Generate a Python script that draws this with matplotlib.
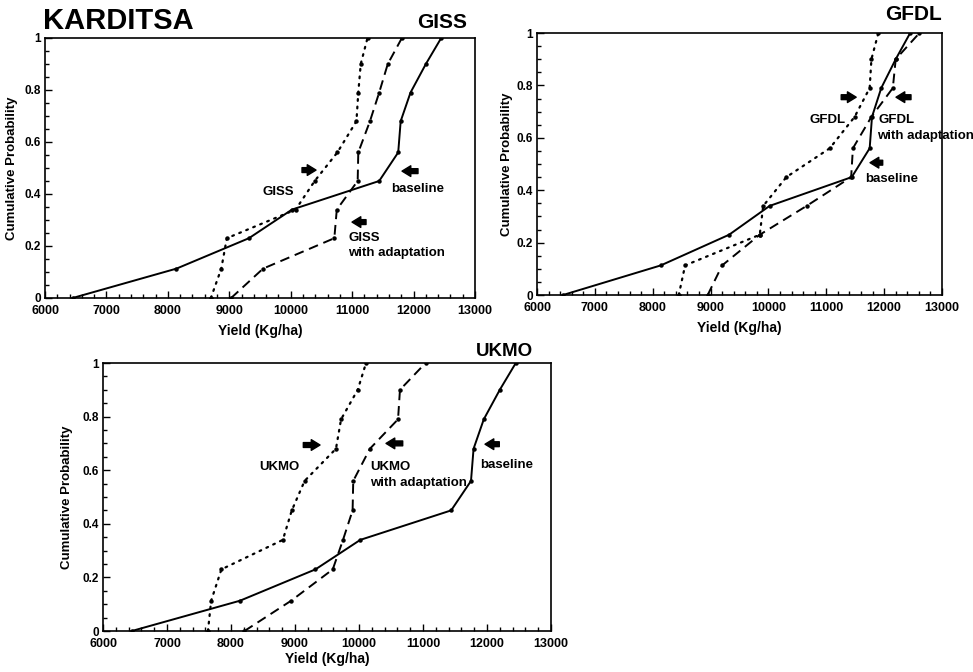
import matplotlib
matplotlib.use("Agg")
import matplotlib.pyplot as plt
from matplotlib.ticker import MultipleLocator, FixedLocator

plt.rcParams['font.family'] = ['Liberation Sans', 'DejaVu Sans']

# ---------------- data ----------------
prob = [0, 0.113, 0.23, 0.34, 0.45, 0.56, 0.68, 0.79, 0.90, 1.0]
baseline = [6450, 8140, 9320, 10020, 11440, 11750, 11790, 11950, 12200, 12450]

giss = [8700, 8870, 8960, 10080, 10390, 10760, 11070, 11100, 11140, 11250]
giss_adapt = [9030, 9550, 10710, 10750, 11090, 11100, 11290, 11440, 11580, 11810]

gfdl = [8450, 8560, 9850, 9910, 10310, 11060, 11490, 11750, 11780, 11900]
gfdl_adapt = [8950, 9200, 9850, 10660, 11430, 11460, 11780, 12150, 12200, 12610]

ukmo = [7640, 7690, 7850, 8810, 8950, 9150, 9640, 9720, 9980, 10110]
ukmo_adapt = [8210, 8940, 9590, 9750, 9900, 9910, 10170, 10610, 10640, 11040]

xticks = [6000, 7000, 8000, 9000, 10000, 11000, 12000, 13000]
yticks = [0, 0.2, 0.4, 0.6, 0.8, 1]
ytick_labels = ['0', '0.2', '0.4', '0.6', '0.8', '1']

# ---------------- figure ----------------
fig = plt.figure(figsize=(9.73, 6.72), dpi=100)
W, H = 973.0, 672.0


def make_axes(l, r, t, b):
    return fig.add_axes([l / W, 1 - b / H, (r - l) / W, (b - t) / H])


def style(ax, xlab_y, ylab_x):
    ax.set_xlim(6000, 13000)
    ax.set_ylim(0, 1)
    ax.xaxis.set_major_locator(FixedLocator(xticks))
    ax.xaxis.set_minor_locator(MultipleLocator(200))
    ax.yaxis.set_major_locator(FixedLocator(yticks))
    ax.yaxis.set_minor_locator(MultipleLocator(0.05))
    ax.set_yticklabels(ytick_labels)
    ax.tick_params(which='both', direction='in', top=False, right=False,
                   width=1.0)
    ax.tick_params(axis='x', labelsize=9, pad=5)
    ax.tick_params(axis='y', labelsize=8.5, pad=3)
    ax.tick_params(which='major', length=5)
    ax.tick_params(which='minor', length=3)
    for lab in ax.get_xticklabels() + ax.get_yticklabels():
        lab.set_fontweight('bold')
    for s in ax.spines.values():
        s.set_linewidth(1.2)
    ax.set_xlabel('Yield (Kg/ha)', fontsize=10, fontweight='bold')
    ax.set_ylabel('Cumulative Probability', fontsize=9.5, fontweight='bold')
    ax.xaxis.set_label_coords(0.5, xlab_y)
    ax.yaxis.set_label_coords(ylab_x, 0.5)


def draw(ax, scen, adapt):
    ax.plot(baseline, prob, color='black', lw=1.4, marker='o', ms=2.2,
            solid_joinstyle='miter')
    ax.plot(scen, prob, color='black', lw=1.6, linestyle=(0, (0.8, 2.6)),
            marker='o', ms=2.2, dash_capstyle='round')
    ax.plot(adapt, prob, color='black', lw=1.4, linestyle=(0, (5, 3)),
            marker='o', ms=2.2)


def arrow(ax, x_tail, x_tip, y):
    ax.annotate('', xy=(x_tip, y), xytext=(x_tail, y),
                arrowprops=dict(arrowstyle='simple,head_length=0.9,head_width=1.1,tail_width=0.5',
                                color='black', shrinkA=0, shrinkB=0,
                                mutation_scale=7))


tfs = 9.5

# ---- GISS ----
ax1 = make_axes(45, 475, 38, 298)
draw(ax1, giss, giss_adapt)
style(ax1, -0.1, -0.062)
arrow(ax1, 10184, 10412, 0.492)
ax1.text(9793, 0.408, 'GISS', ha='center', va='center', fontsize=tfs, fontweight='bold')
arrow(ax1, 12072, 11812, 0.488)
ax1.text(12060, 0.419, 'baseline', ha='center', va='center', fontsize=tfs, fontweight='bold')
arrow(ax1, 11226, 10998, 0.292)
ax1.text(10933, 0.231, 'GISS', ha='left', va='center', fontsize=tfs, fontweight='bold')
ax1.text(10933, 0.173, 'with adaptation', ha='left', va='center', fontsize=tfs, fontweight='bold')

# ---- GFDL ----
ax2 = make_axes(537, 942, 33, 295)
draw(ax2, gfdl, gfdl_adapt)
style(ax2, -0.1, -0.059)
arrow(ax2, 11258, 11517, 0.755)
ax2.text(11030, 0.668, 'GFDL', ha='center', va='center', fontsize=tfs, fontweight='bold')
arrow(ax2, 12464, 12205, 0.755)
ax2.text(11894, 0.668, 'GFDL', ha='left', va='center', fontsize=tfs, fontweight='bold')
ax2.text(11880, 0.607, 'with adaptation', ha='left', va='center', fontsize=tfs,
         fontweight='bold', clip_on=False)
arrow(ax2, 11975, 11756, 0.505)
ax2.text(11669, 0.443, 'baseline', ha='left', va='center', fontsize=tfs, fontweight='bold')

# ---- UKMO ----
ax3 = make_axes(103, 551, 363, 631)
draw(ax3, ukmo, ukmo_adapt)
style(ax3, -0.078, -0.067)
arrow(ax3, 9130, 9391, 0.694)
ax3.text(8750, 0.613, 'UKMO', ha='center', va='center', fontsize=tfs, fontweight='bold')
arrow(ax3, 10683, 10422, 0.70)
ax3.text(10172, 0.613, 'UKMO', ha='left', va='center', fontsize=tfs, fontweight='bold')
ax3.text(10172, 0.553, 'with adaptation', ha='left', va='center', fontsize=tfs, fontweight='bold')
arrow(ax3, 12192, 11969, 0.697)
ax3.text(11891, 0.619, 'baseline', ha='left', va='center', fontsize=tfs, fontweight='bold')

# ---- titles ----
fig.text(43 / W, 1 - 21 / H, 'KARDITSA', ha='left', va='center', fontsize=21, fontweight='bold')
fig.text(467 / W, 1 - 23 / H, 'GISS', ha='right', va='center', fontsize=15, fontweight='bold')
fig.text(942 / W, 1 - 15 / H, 'GFDL', ha='right', va='center', fontsize=15, fontweight='bold')
fig.text(533 / W, 1 - 351 / H, 'UKMO', ha='right', va='center', fontsize=13.5, fontweight='bold')

fig.savefig('out.png', dpi=100)
